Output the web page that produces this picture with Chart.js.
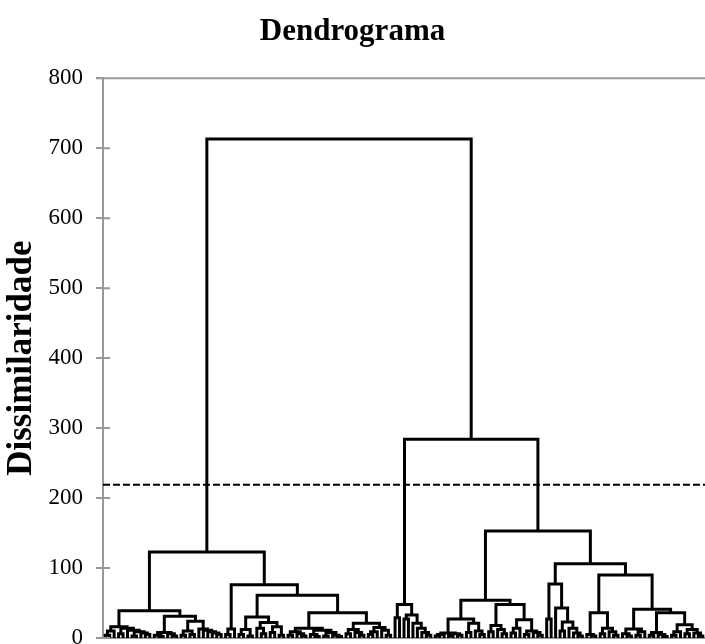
<!DOCTYPE html>
<html>
<head>
<meta charset="utf-8">
<script src="https://cdn.jsdelivr.net/npm/chart.js@4/dist/chart.umd.min.js"></script>
<style>
  html, body { margin: 0; padding: 0; background: #fff; }
  canvas { display: block; }
</style>
</head>
<body>
<canvas id="dendro" width="705" height="644"></canvas>
<script>
// merge heights, nested as [height, left, right]; 0 is a leaf
const clusterL1 = [39,
  [16,
    [10, [4, 0, 0], 0],
    [14, [6, 0, 0], [11, 0, [9, [3, 0, 0], [7, 0, [5, 0, 0]]]]]
  ],
  [31,
    [8, [4, 0, [2, 0, 0]], [6, 0, [3, 0, 0]]],
    [24, [10, [4, 0, 0], [5, 0, 0]], [13, 0, [11, 0, [9, 0, [7, 0, [5, 0, 0]]]]]]
  ]
];

const clusterL2 = [76,
  [13, [5, 0, 0], 0],
  [61,
    [30, [12, [5, 0, 0], [3, 0, 0]], [22, [14, 0, [6, 0, 0]], [16, [8, 0, 0], [4, 0, 0]]]],
    [36,
      [14, [9, [4, 0, 0], [6, 0, [3, 0, 0]]], [11, [5, 0, [2, 0, 0]], [8, [3, 0, 0], [4, 0, [2, 0, 0]]]]],
      [21, [12, [6, 0, 0], [8, 0, [4, 0, 0]]], [15, [9, [5, 0, 0], 0], [11, 0, [4, 0, 0]]]]
    ]
  ]
];

const clusterR1 = [48, [29, 0, 0], [33, [27, 0, 0], [21, 0, [14, 0, [8, 0, [4, 0, 0]]]]]];

const clusterR2a = [54,
  [27, [7, [5, [3, 0, 0], 0], [6, [3, 0, 0], [4, 0, 0]]], [21, [8, 0, 0], [10, 0, [5, 0, 0]]]],
  [48, [18, [9, 0, 0], [12, 0, [6, 0, 0]]], [26, [14, [7, 0, 0], 0], [10, [5, 0, 0], [8, 0, [4, 0, 0]]]]]
];

const clusterR2b = [106,
  [77, [27, 0, 0], [43, 0, [23, [10, 0, 0], [14, 0, [7, 0, [3, 0, 0]]]]]],
  [90,
    [36, [5, 0, [3, 0, 0]], [14, [6, 0, 0], [9, 0, [4, 0, 0]]]],
    [41,
      [13, [6, 0, [3, 0, 0]], [9, [4, 0, 0], 0]],
      [36, [8, [4, 0, 0], [5, 0, [2, 0, 0]]], [19, [9, [4, 0, 0], 0], [12, [6, 0, 0], [7, 0, [3, 0, 0]]]]]
    ]
  ]
];

const leftBranch = [123, clusterL1, clusterL2];
const rightBranch = [284, clusterR1, [153, clusterR2a, clusterR2b]];
const dendrogram = [713, leftBranch, rightBranch];

const cutLevel = 219;
const yTicks = [0, 100, 200, 300, 400, 500, 600, 700, 800];

const serif = "'Liberation Serif', 'Times New Roman', serif";
const axisGray = '#999999';

// walk the tree left to right, leaves get consecutive x positions
let leafCount = 0;
const segments = [];
function place(node) {
  if (!Array.isArray(node)) return { x: leafCount++, h: 0 };
  const [h, a, b] = node;
  const l = place(a);
  const r = place(b);
  segments.push(
    { x: l.x, y: l.h }, { x: l.x, y: h },
    { x: r.x, y: h }, { x: r.x, y: r.h },
    { x: r.x, y: null }
  );
  return { x: (l.x + r.x) / 2, h };
}
place(dendrogram);

const xMin = -0.5;
const xMax = leafCount - 0.5;
const cutLine = [{ x: xMin, y: cutLevel }, { x: xMax, y: cutLevel }];

// tick marks crossing into the plot, plus the line along the top
const axisMarks = {
  id: 'axisMarks',
  afterDatasetsDraw(chart) {
    const { ctx, chartArea, scales: { y } } = chart;
    ctx.save();
    ctx.strokeStyle = axisGray;
    ctx.lineWidth = 2;
    ctx.beginPath();
    yTicks.forEach(v => {
      const py = y.getPixelForValue(v);
      ctx.moveTo(chartArea.left, py);
      ctx.lineTo(chartArea.left + 7, py);
    });
    const top = y.getPixelForValue(yTicks[yTicks.length - 1]);
    ctx.moveTo(chartArea.left - 7, top);
    ctx.lineTo(chartArea.right, top);
    ctx.stroke();
    ctx.restore();
  }
};

new Chart(document.getElementById('dendro'), {
  type: 'scatter',
  data: {
    datasets: [
      {
        data: cutLine,
        showLine: true,
        borderColor: '#000',
        borderWidth: 2,
        borderDash: [7, 3],
        pointRadius: 0
      },
      {
        data: segments,
        showLine: true,
        spanGaps: false,
        borderColor: '#000',
        borderWidth: 3,
        borderJoinStyle: 'miter',
        pointRadius: 0
      }
    ]
  },
  options: {
    responsive: false,
    animation: false,
    layout: { padding: { top: 0, right: 0, bottom: 6, left: 0 } },
    plugins: {
      legend: { display: false },
      tooltip: { enabled: false },
      title: {
        display: true,
        text: 'Dendrograma',
        color: '#000',
        font: { family: serif, size: 31, weight: 'bold' },
        padding: { top: 13, bottom: 28 }
      }
    },
    scales: {
      x: {
        type: 'linear',
        min: xMin,
        max: xMax,
        ticks: { display: false },
        grid: { display: false, drawTicks: false },
        border: { color: axisGray, width: 2 }
      },
      y: {
        min: 0,
        max: 800,
        afterBuildTicks: s => { s.ticks = yTicks.map(v => ({ value: v })); },
        afterFit: s => { s.width = 103; s.paddingTop = 0; s.paddingBottom = 0; },
        ticks: { color: '#000', font: { family: serif, size: 23 }, padding: 13 },
        grid: { drawOnChartArea: false, tickLength: 7, color: axisGray, lineWidth: 2 },
        border: { color: axisGray, width: 2 },
        title: {
          display: true,
          text: 'Dissimilaridade',
          color: '#000',
          font: { family: serif, size: 35, weight: 'bold' },
          padding: { top: 1, bottom: 0 }
        }
      }
    }
  },
  plugins: [axisMarks]
});
</script>
</body>
</html>
